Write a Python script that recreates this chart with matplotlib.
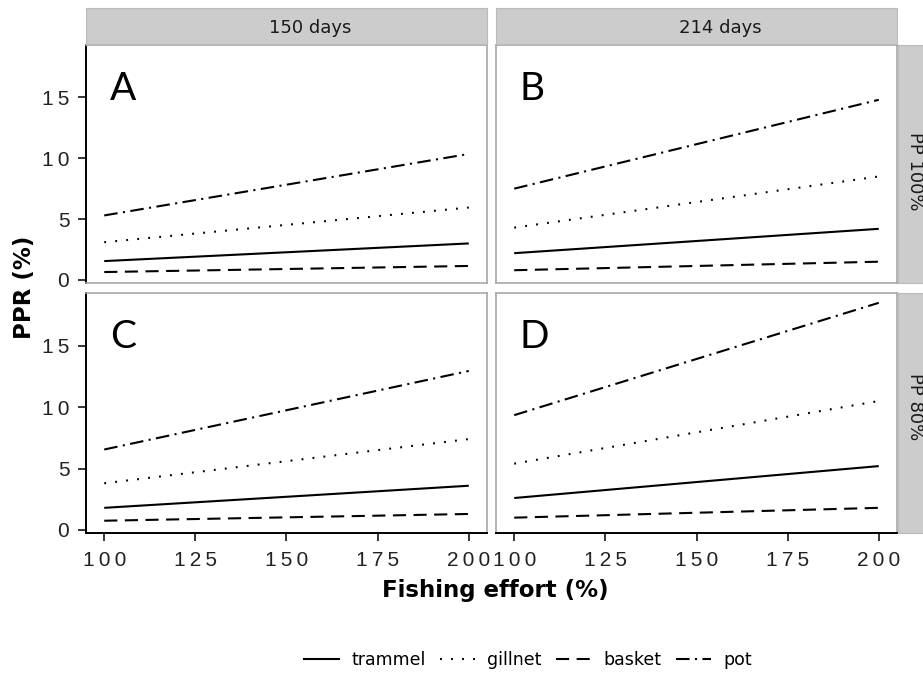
import matplotlib
matplotlib.use('Agg')
import matplotlib.pyplot as plt
from matplotlib.lines import Line2D

# fishing effort (%) and PPR (%), order A, B, C, D
effort = [100, 200]
trammel = [[1.55, 3.0], [2.2, 4.2], [1.8, 3.6], [2.6, 5.2]]
gillnet = [[3.1, 5.95], [4.3, 8.5], [3.8, 7.4], [5.4, 10.5]]
basket = [[0.65, 1.15], [0.8, 1.5], [0.75, 1.3], [1.0, 1.8]]
pot = [[5.3, 10.35], [7.5, 14.8], [6.55, 12.95], [9.35, 18.5]]

gears = ['trammel', 'gillnet', 'basket', 'pot']
panel_letters = ['A', 'B', 'C', 'D']
col_labels = ['150 days', '214 days']
row_labels = ['PP 100%', 'PP 80%']
xticks = [100, 125, 150, 175, 200]
yticks = [0, 5, 10, 15]

styles = {
    'trammel': '-',
    'gillnet': (0, (0.9, 4.4)),
    'basket': (0, (6.3, 3.6)),
    'pot': (0, (6.5, 2.6, 1.0, 2.6)),
}

W, H = 923, 674
fig = plt.figure(figsize=(W / 100, H / 100), dpi=100)

def px_axes(l, t, r, b):
    return fig.add_axes([l / W, 1 - b / H, (r - l) / W, (b - t) / H])

def spaced(v):
    # the reference prints tick digits slightly letter-spaced
    return '\u2009'.join(str(v))

lefts = [86, 496]
rights = [487, 897]
tops = [45, 293]
bottoms = [283, 533]
row_text_y = [171, 407]
border = '#a8a8a8'
stripc = '#cccccc'
tickfont = 'Liberation Sans'

data = {'trammel': trammel, 'gillnet': gillnet, 'basket': basket, 'pot': pot}

for i in range(4):
    r, c = divmod(i, 2)
    ax = px_axes(lefts[c], tops[r], rights[c], bottoms[r])
    for g in gears:
        ax.plot(effort, data[g][i], color='black', lw=1.5, linestyle=styles[g],
                solid_capstyle='butt', dash_capstyle='butt')
    ax.set_xlim(95, 205)
    ax.set_ylim(-0.25, 19.3)
    ax.set_xticks(xticks)
    ax.set_yticks(yticks)
    ax.set_xticklabels([spaced(v) for v in xticks], family=tickfont, fontsize=15)
    ax.set_yticklabels([spaced(v) for v in yticks], family=tickfont, fontsize=15)
    for s in ax.spines.values():
        s.set_color(border)
        s.set_linewidth(1.2)
    ax.tick_params(length=6, width=1.1, color='black', labelcolor='#222222')
    ax.tick_params(axis='x', pad=7)
    ax.tick_params(axis='y', pad=6)
    if c == 0:
        ax.spines['left'].set_color('black')
        ax.spines['left'].set_linewidth(1.4)
    else:
        ax.tick_params(axis='y', left=False, labelleft=False)
    if r == 1:
        ax.spines['bottom'].set_color('black')
        ax.spines['bottom'].set_linewidth(1.4)
    else:
        ax.tick_params(axis='x', bottom=False, labelbottom=False)
    ax.text(101.5, 14.8, panel_letters[i], family='Lato', fontsize=28,
            ha='left', va='baseline', color='black')

    # strips
    if r == 0:
        st = px_axes(lefts[c], 8, rights[c], 44)
        st.set_facecolor(stripc)
        st.set_xticks([])
        st.set_yticks([])
        for s in st.spines.values():
            s.set_color('#bbbbbb')
        st.text(0.5 + 24 / 401, 0.45, col_labels[c], ha='center', va='center',
                fontsize=13, color='#1a1a1a', transform=st.transAxes)
    if c == 1:
        st = px_axes(898, tops[r], 935, bottoms[r])
        st.set_facecolor(stripc)
        st.set_xticks([])
        st.set_yticks([])
        for s in st.spines.values():
            s.set_color('#bbbbbb')
        fig.text(915 / W, 1 - row_text_y[r] / H, row_labels[r], ha='center',
                 va='center', rotation=-90, fontsize=13, color='#1a1a1a')

fig.text(25 / W, 1 - 287 / H, 'PPR (%)', rotation=90, ha='center', va='center',
         fontsize=16.5, fontweight='bold')
fig.text(495 / W, 1 - 591 / H, 'Fishing effort (%)', ha='center', va='center',
         fontsize=16.5, fontweight='bold')

handles = [Line2D([0], [0], color='black', lw=1.5, linestyle=styles[g]) for g in gears]
fig.legend(handles, gears, loc='center', bbox_to_anchor=(528 / W, 1 - 660 / H),
           ncol=4, frameon=False, fontsize=12.5, handlelength=2.0,
           handletextpad=0.7, columnspacing=0.85)

fig.savefig('out.png', dpi=100)
